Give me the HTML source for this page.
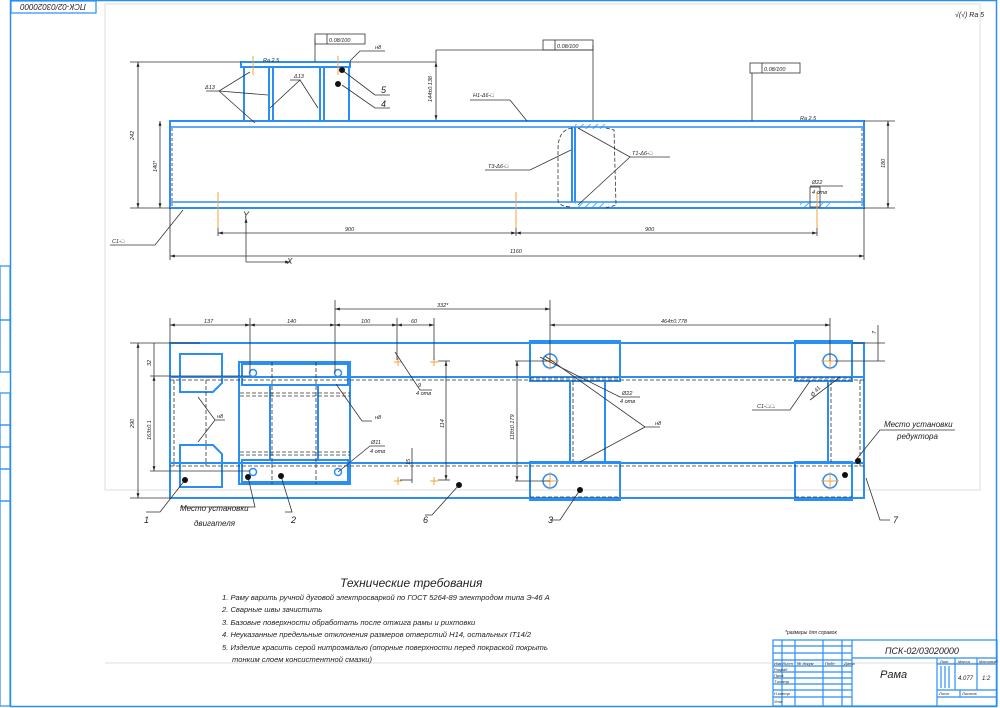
<!DOCTYPE html>
<html><head><meta charset="utf-8"><style>
html,body{margin:0;padding:0;background:#fff}
svg{display:block}
text{font-family:"Liberation Sans","DejaVu Sans",sans-serif;font-style:italic;fill:#222}
</style></head><body>
<svg width="1000" height="708" viewBox="0 0 1000 708" xmlns="http://www.w3.org/2000/svg">
<defs>
<marker id="a" viewBox="0 0 10 10" refX="10" refY="5" markerWidth="6" markerHeight="6" orient="auto-start-reverse"><path d="M0,2L10,5L0,8z" fill="#222"/></marker>
<pattern id="h" width="5" height="5" patternUnits="userSpaceOnUse" patternTransform="rotate(45)"><line x1="0" y1="0" x2="0" y2="5" stroke="#2a8ef5" stroke-width="1.5"/></pattern>
</defs>
<!-- frames -->
<rect x="10.5" y="0.5" width="986" height="706" fill="none" stroke="#2a8ef5" stroke-width="1.5"/>
<rect x="105" y="4" width="875" height="486" fill="none" stroke="#ddd" stroke-width="1"/>
<line x1="105" y1="663" x2="997" y2="663" stroke="#ddd"/>
<rect x="11" y="1" width="85" height="12" fill="none" stroke="#2a8ef5" stroke-width="1.2"/>
<text x="53" y="10" font-size="8" text-anchor="middle" transform="rotate(180 53 7)">ПСК-02/03020000</text>
<g fill="none" stroke="#2a8ef5" stroke-width="1.2">
<rect x="0" y="266" width="10" height="54"/><rect x="0" y="320" width="10" height="52"/>
<rect x="0" y="393" width="10" height="32"/><rect x="0" y="425" width="10" height="22"/>
<rect x="0" y="447" width="10" height="22"/><rect x="0" y="469" width="10" height="32"/><rect x="0" y="501" width="10" height="205"/>
</g>
<text x="955" y="17" font-size="7">√(√) Ra 5</text>

<!-- ===== TOP VIEW ===== -->
<g fill="none" stroke="#2a8ef5" stroke-width="2">
<rect x="170" y="121" width="694" height="87"/>
<line x1="170" y1="127" x2="864" y2="127" stroke-width="1.5"/>
<line x1="170" y1="202" x2="864" y2="202" stroke-width="1.5"/>
<rect x="241" y="62" width="109" height="5"/>
<line x1="244" y1="67" x2="244" y2="121"/><line x1="269" y1="67" x2="269" y2="121"/>
<line x1="273" y1="67" x2="273" y2="121"/>
<line x1="320" y1="67" x2="320" y2="121"/><line x1="324" y1="67" x2="324" y2="121"/>
<line x1="349" y1="67" x2="349" y2="121"/>
<line x1="572" y1="127" x2="572" y2="202"/><line x1="575" y1="127" x2="575" y2="202"/>
</g>
<rect x="575" y="124" width="32" height="5" fill="url(#h)"/>
<rect x="575" y="203" width="32" height="5" fill="url(#h)"/>
<rect x="800" y="203" width="10" height="5" fill="url(#h)"/><rect x="820" y="203" width="10" height="5" fill="url(#h)"/>
<g fill="none" stroke="#333" stroke-width="0.8">
<path d="M572,128 C560,130 558,140 558,150 L558,200 C558,205 565,207 572,207" stroke-dasharray="4 2"/>
<path d="M606,128 L614,130 L616,205 L606,208" stroke-dasharray="4 2"/>
<line x1="172" y1="128" x2="172" y2="206" stroke-dasharray="3 2"/>
<line x1="862" y1="128" x2="862" y2="206" stroke-dasharray="3 2"/>
<rect x="810" y="187" width="10" height="20"/>
<!-- dims -->
<line x1="130" y1="62" x2="241" y2="62"/><line x1="130" y1="208" x2="170" y2="208"/>
<line x1="138" y1="62" x2="138" y2="208" marker-start="url(#a)" marker-end="url(#a)"/>
<line x1="160" y1="121" x2="160" y2="208" marker-start="url(#a)" marker-end="url(#a)"/>
<line x1="864" y1="121" x2="895" y2="121"/><line x1="864" y1="208" x2="895" y2="208"/>
<line x1="888" y1="121" x2="888" y2="208" marker-start="url(#a)" marker-end="url(#a)"/>
<line x1="350" y1="62" x2="436" y2="62"/><line x1="436" y1="62" x2="436" y2="120" marker-start="url(#a)" marker-end="url(#a)"/>
<line x1="218" y1="233" x2="516" y2="233" marker-start="url(#a)" marker-end="url(#a)"/>
<line x1="516" y1="233" x2="817" y2="233" marker-start="url(#a)" marker-end="url(#a)"/>
<line x1="218" y1="208" x2="218" y2="236"/><line x1="516" y1="208" x2="516" y2="236"/><line x1="817" y1="208" x2="817" y2="236"/>
<line x1="170" y1="208" x2="170" y2="260"/><line x1="864" y1="208" x2="864" y2="260"/>
<line x1="170" y1="256" x2="864" y2="256" marker-start="url(#a)" marker-end="url(#a)"/>
<line x1="246" y1="262" x2="246" y2="218" marker-end="url(#a)"/><line x1="246" y1="262" x2="290" y2="262" marker-end="url(#a)"/>
<!-- tolerance frames -->
<rect x="315" y="34" width="50" height="10"/><line x1="327" y1="34" x2="327" y2="44"/><line x1="315" y1="39" x2="315" y2="62"/>
<rect x="543" y="40" width="50" height="10"/><line x1="555" y1="40" x2="555" y2="50"/><line x1="593" y1="45" x2="593" y2="120"/><line x1="436" y1="50" x2="436" y2="62"/><line x1="436" y1="50" x2="593" y2="50"/>
<rect x="750" y="63" width="50" height="10"/><line x1="762" y1="63" x2="762" y2="73"/><line x1="752" y1="73" x2="752" y2="121"/>
<!-- leaders -->
<path d="M206,91 L219,91 L250,72 M219,91 L255,123 M219,91 L268,95"/>
<path d="M290,80 L300,80 L270,108 M300,80 L318,108"/>
<path d="M350,61 L360,51 L385,51"/>
<path d="M342,70 L375,95 L390,95 M342,85 L375,108 L390,108"/>
<path d="M470,100 L510,100 L527,121"/>
<path d="M485,170 L530,170 L571,150"/>
<path d="M670,157 L630,157 L578,128 M630,157 L578,205"/>
<path d="M110,245 L155,245 L183,210"/>
<path d="M810,186 L843,186"/>
</g>
<g stroke="#f5a040" stroke-width="1"><line x1="218" y1="192" x2="218" y2="228"/><line x1="516" y1="192" x2="516" y2="228"/><line x1="817" y1="192" x2="817" y2="228"/><line x1="253" y1="56" x2="253" y2="75"/><line x1="338" y1="56" x2="338" y2="75"/></g>
<circle cx="342" cy="70" r="3" fill="#111"/><circle cx="338" cy="84" r="3" fill="#111"/>
<g font-size="5.5">
<text x="134" y="140" transform="rotate(-90 134 140)">242</text>
<text x="157" y="172" transform="rotate(-90 157 172)">140*</text>
<text x="885" y="168" transform="rotate(-90 885 168)">180</text>
<text x="432" y="102" transform="rotate(-90 432 102)">144±0.138</text>
<text x="345" y="231">900</text><text x="645" y="231">900</text><text x="510" y="253">1160</text>
<text x="329" y="42">0.08/100</text><text x="557" y="48">0.08/100</text><text x="764" y="71">0.08/100</text>
<text x="375" y="49">н8</text><text x="205" y="89">Δ13</text><text x="294" y="78">Δ13</text>
<text x="473" y="97">Н1-Δ6-□</text><text x="488" y="168">Т3-Δ6-□</text><text x="632" y="155">Т1-Δ6-□</text>
<text x="112" y="243">С1-□</text><text x="812" y="184">Ø22</text><text x="812" y="194">4 отв</text>
<text x="263" y="62">Ra 2.5</text><text x="800" y="120">Ra 2.5</text>
<text x="243" y="218" font-size="9">Y</text><text x="287" y="264" font-size="8">X</text>
</g>
<text x="381" y="93" font-size="9">5</text><text x="381" y="107" font-size="9">4</text>

<!-- ===== PLAN VIEW ===== -->
<g fill="none" stroke="#2a8ef5" stroke-width="2">
<rect x="170" y="343" width="694" height="155"/>
<line x1="170" y1="377" x2="864" y2="377"/><line x1="170" y1="463" x2="864" y2="463"/>
<path d="M180,354 L222,354 L222,383 L213,392 L180,392 Z"/>
<path d="M180,445 L213,445 L222,454 L222,487 L180,487 Z"/>
<rect x="239" y="362" width="111" height="122"/>
<rect x="242" y="364" width="106" height="21"/><rect x="242" y="460" width="106" height="22"/>
<line x1="270" y1="385" x2="270" y2="460"/><line x1="318" y1="385" x2="318" y2="460"/>
<rect x="530" y="341" width="90" height="40"/><rect x="530" y="462" width="90" height="38"/>
<rect x="795" y="341" width="57" height="40"/><rect x="795" y="462" width="57" height="38"/>
<line x1="570" y1="381" x2="570" y2="462"/><line x1="605" y1="381" x2="605" y2="462"/>
<line x1="828" y1="381" x2="828" y2="462"/><line x1="864" y1="343" x2="864" y2="498"/>
<line x1="852" y1="343" x2="864" y2="343"/><line x1="852" y1="498" x2="864" y2="498"/>
</g>
<g fill="none" stroke="#2a8ef5" stroke-width="1.5">
<circle cx="253" cy="373" r="3.5"/><circle cx="338" cy="373" r="3.5"/>
<circle cx="253" cy="472" r="3.5"/><circle cx="338" cy="472" r="3.5"/>
<circle cx="550" cy="361" r="7"/><circle cx="550" cy="481" r="7"/>
<circle cx="830" cy="361" r="7"/><circle cx="830" cy="481" r="7"/>
</g>
<g stroke="#f5a040" stroke-width="1">
<path d="M541,361h18M550,352v18M541,481h18M550,472v18M821,361h18M830,352v18M821,481h18M830,472v18"/>
<path d="M394,362h8M398,358v8M430,362h8M434,358v8M394,481h8M398,477v8M430,481h8M434,477v8"/>
</g>
<g fill="none" stroke="#333" stroke-width="0.8" stroke-dasharray="4 2">
<line x1="170" y1="380" x2="864" y2="380"/><line x1="170" y1="466" x2="864" y2="466"/>
<line x1="174" y1="380" x2="174" y2="466"/><line x1="206" y1="380" x2="206" y2="466"/>
<line x1="860" y1="380" x2="860" y2="466"/><line x1="272" y1="362" x2="272" y2="484"/><line x1="316" y1="362" x2="316" y2="484"/>
<line x1="240" y1="393" x2="350" y2="393"/><line x1="240" y1="396" x2="350" y2="396"/>
<line x1="240" y1="452" x2="350" y2="452"/><line x1="240" y1="455" x2="350" y2="455"/>
<line x1="573" y1="381" x2="573" y2="462"/><line x1="831" y1="381" x2="831" y2="462"/>
<line x1="530" y1="378" x2="620" y2="378"/><line x1="530" y1="497" x2="620" y2="497"/>
<line x1="795" y1="378" x2="852" y2="378"/><line x1="795" y1="497" x2="852" y2="497"/>
</g>
<g fill="none" stroke="#333" stroke-width="0.8">
<line x1="170" y1="343" x2="170" y2="318"/><line x1="250" y1="373" x2="250" y2="318"/><line x1="335" y1="373" x2="335" y2="300"/>
<line x1="397" y1="360" x2="397" y2="318"/><line x1="434" y1="360" x2="434" y2="318"/><line x1="550" y1="361" x2="550" y2="300"/><line x1="830" y1="361" x2="830" y2="318"/>
<line x1="170" y1="325" x2="250" y2="325" marker-start="url(#a)" marker-end="url(#a)"/>
<line x1="250" y1="325" x2="335" y2="325" marker-start="url(#a)" marker-end="url(#a)"/>
<line x1="335" y1="325" x2="397" y2="325" marker-start="url(#a)" marker-end="url(#a)"/>
<line x1="397" y1="325" x2="434" y2="325" marker-start="url(#a)" marker-end="url(#a)"/>
<line x1="335" y1="309" x2="550" y2="309" marker-start="url(#a)" marker-end="url(#a)"/>
<line x1="550" y1="325" x2="830" y2="325" marker-start="url(#a)" marker-end="url(#a)"/>
<line x1="130" y1="343" x2="200" y2="343"/><line x1="130" y1="498" x2="170" y2="498"/>
<line x1="138" y1="343" x2="138" y2="498" marker-start="url(#a)" marker-end="url(#a)"/>
<line x1="150" y1="376" x2="250" y2="376"/><line x1="150" y1="471" x2="250" y2="471"/>
<line x1="154" y1="376" x2="154" y2="471" marker-start="url(#a)" marker-end="url(#a)"/>
<line x1="154" y1="343" x2="154" y2="376"/>
<line x1="438" y1="361" x2="450" y2="361"/><line x1="438" y1="480" x2="450" y2="480"/>
<line x1="446" y1="361" x2="446" y2="480" marker-start="url(#a)" marker-end="url(#a)"/>
<line x1="515" y1="361" x2="550" y2="361"/><line x1="515" y1="481" x2="550" y2="481"/>
<line x1="517" y1="361" x2="517" y2="481" marker-start="url(#a)" marker-end="url(#a)"/>
<line x1="852" y1="343" x2="885" y2="343"/><line x1="835" y1="361" x2="885" y2="361"/>
<line x1="878" y1="325" x2="878" y2="361"/>
<line x1="412" y1="448" x2="412" y2="483"/><line x1="400" y1="480" x2="412" y2="480"/>
<!-- leaders -->
<path d="M198,397 L215,420 L225,420 M215,420 L198,442"/>
<path d="M336,384 L362,421 L372,421"/>
<path d="M395,352 L420,390 L432,390"/>
<path d="M338,472 L370,446 L385,446"/>
<path d="M540,357 L620,397 L640,397"/>
<path d="M545,356 L645,427 L660,427 M645,427 L580,462"/>
<path d="M810,381 L790,410 L752,410 M840,377 L810,400"/>
<path d="M855,461 L880,430 L955,430"/>
<path d="M185,480 L160,512 L146,512"/><path d="M248,477 L255,507 L180,507"/>
<path d="M281,476 L292,512 L285,512"/><path d="M459,485 L432,515 L425,515"/><path d="M580,490 L560,520 L550,520"/>
<path d="M866,478 L880,520 L890,520"/>
</g>
<g fill="#111"><circle cx="185" cy="480" r="3"/><circle cx="248" cy="477" r="3"/><circle cx="281" cy="476" r="3"/><circle cx="459" cy="485" r="3"/><circle cx="580" cy="490" r="3"/><circle cx="845" cy="475" r="3"/><circle cx="858" cy="461" r="3"/></g>
<g font-size="5.5">
<text x="204" y="323">137</text><text x="287" y="323">140</text><text x="361" y="323">100</text><text x="411" y="323">60</text>
<text x="437" y="307">332*</text><text x="661" y="323">464±0.778</text>
<text x="134" y="428" transform="rotate(-90 134 428)">290</text>
<text x="151" y="440" transform="rotate(-90 151 440)">163±0.1</text>
<text x="151" y="366" transform="rotate(-90 151 366)">32</text>
<text x="444" y="428" transform="rotate(-90 444 428)">114</text>
<text x="514" y="440" transform="rotate(-90 514 440)">118±0.179</text>
<text x="876" y="334" transform="rotate(-90 876 334)">7</text>
<text x="410" y="465" transform="rotate(-90 410 465)">15</text>
<text x="375" y="419">н8</text><text x="418" y="387">9</text><text x="416" y="395">4 отв</text>
<text x="371" y="444">Ø11</text><text x="370" y="453">4 отв</text><text x="217" y="418">н8</text>
<text x="622" y="395">Ø22</text><text x="620" y="403">4 отв</text><text x="655" y="425">н8</text>
<text x="757" y="408">С1-□.□.</text><text x="813" y="397" transform="rotate(-50 813 397)">Ø 41</text>
</g>
<g font-size="8">
<text x="884" y="427">Место установки</text><text x="897" y="439">редуктора</text>
<text x="180" y="511">Место установки</text><text x="194" y="526">двигателя</text>
</g>
<g font-size="9"><text x="144" y="523">1</text><text x="291" y="523">2</text><text x="423" y="523">6</text><text x="548" y="523">3</text><text x="893" y="523">7</text></g>

<!-- tech requirements -->
<text x="340" y="587" font-size="12">Технические требования</text>
<g font-size="7.6">
<text x="222" y="600">1. Раму варить ручной дуговой электросваркой по ГОСТ 5264-89 электродом типа Э-46 А</text>
<text x="222" y="612">2. Сварные швы зачистить</text>
<text x="222" y="625">3. Базовые поверхности обработать после отжига рамы и рихтовки</text>
<text x="222" y="637">4. Неуказанные предельные отклонения размеров отверстий Н14, остальных IT14/2</text>
<text x="222" y="650">5. Изделие красить серой нитроэмалью (опорные поверхности перед покраской покрыть</text>
<text x="232" y="662">тонким слоем консистентной смазки)</text>
</g>

<!-- title block -->
<text x="785" y="634" font-size="5">*размеры для справок</text>
<g fill="none" stroke="#2a8ef5" stroke-width="1.2">
<rect x="773" y="640" width="224" height="66"/>
<line x1="852" y1="640" x2="852" y2="706"/><line x1="852" y1="658" x2="997" y2="658"/>
<line x1="937" y1="658" x2="937" y2="706"/><line x1="937" y1="664" x2="997" y2="664"/>
<line x1="955" y1="658" x2="955" y2="690"/><line x1="977" y1="658" x2="977" y2="690"/>
<line x1="937" y1="690" x2="997" y2="690"/><line x1="937" y1="697" x2="997" y2="697"/>
<line x1="960" y1="690" x2="960" y2="697"/>
<line x1="941" y1="666" x2="941" y2="688"/><line x1="945" y1="666" x2="945" y2="688"/><line x1="949" y1="666" x2="949" y2="688"/>
<line x1="782" y1="640" x2="782" y2="706"/><line x1="795" y1="640" x2="795" y2="706"/>
<line x1="823" y1="640" x2="823" y2="706"/><line x1="842" y1="640" x2="842" y2="706"/>
<line x1="773" y1="646" x2="852" y2="646"/><line x1="773" y1="653" x2="852" y2="653"/>
<line x1="773" y1="660" x2="852" y2="660"/><line x1="773" y1="666" x2="852" y2="666"/>
<line x1="773" y1="672" x2="852" y2="672"/><line x1="773" y1="678" x2="852" y2="678"/>
<line x1="773" y1="684" x2="852" y2="684"/><line x1="773" y1="690" x2="852" y2="690"/>
<line x1="773" y1="697" x2="852" y2="697"/>
</g>
<text x="885" y="654" font-size="9">ПСК-02/03020000</text>
<text x="880" y="678" font-size="11">Рама</text>
<text x="958" y="680" font-size="6">4.077</text><text x="982" y="680" font-size="6">1:2</text>
<g font-size="4"><text x="774" y="665">Изм Лист</text><text x="797" y="665">№ докум</text><text x="825" y="665">Подп</text><text x="844" y="665">Дата</text>
<text x="774" y="671">Разраб</text><text x="774" y="677">Пров</text><text x="774" y="683">Т.контр</text><text x="774" y="695">Н.контр</text><text x="774" y="703">Утв</text>
<text x="940" y="663">Лит</text><text x="958" y="663">Масса</text><text x="979" y="663">Масштаб</text><text x="939" y="695">Лист</text><text x="962" y="695">Листов</text></g>
</svg>
</body></html>
